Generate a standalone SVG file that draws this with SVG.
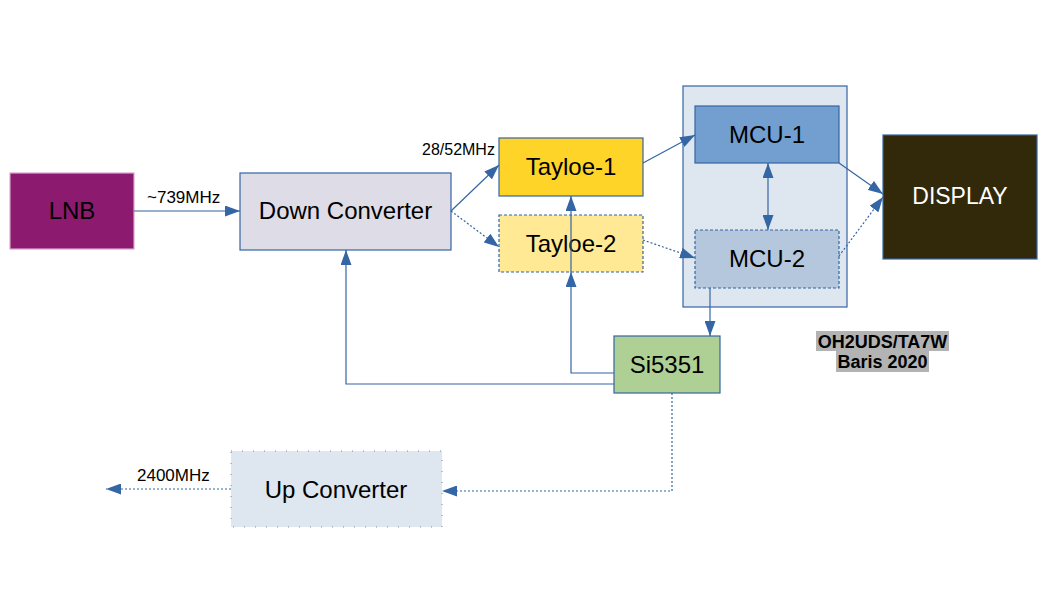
<svg xmlns="http://www.w3.org/2000/svg" width="1058" height="595" viewBox="0 0 1058 595">
<defs>
<marker id="ah" markerUnits="userSpaceOnUse" markerWidth="15" markerHeight="11" refX="15" refY="5.5" orient="auto">
<path d="M0,0 L15,5.5 L0,11 z" fill="#3465a4"/>
</marker>
<marker id="ahs" markerUnits="userSpaceOnUse" markerWidth="15" markerHeight="11" refX="0" refY="5.5" orient="auto">
<path d="M15,0 L0,5.5 L15,11 z" fill="#3465a4"/>
</marker>
</defs>
<style>
text{font-family:"Liberation Sans",Arial,sans-serif;fill:#000}
.lbl{font-size:24px;text-anchor:middle}
.sm{font-size:17px}
.ln{fill:none;stroke:#3465a4;stroke-width:1.2}
.dot{fill:none;stroke:#3465a4;stroke-width:1.2;stroke-dasharray:2,2}
.bx{stroke:#3465a4;stroke-width:1.2}
.dbx{stroke:#3465a4;stroke-width:1.2;stroke-dasharray:3,2}
</style>
<rect width="1058" height="595" fill="#fff"/>

<g id="mcu-group">
<rect x="683" y="86" width="164" height="221" fill="#dee6ef" class="bx"/>
</g>

<g id="lnb">
<rect x="10" y="173" width="124" height="76" fill="#8c1b6f" stroke="#d9a6cb" stroke-width="1.2"/>
<text x="72" y="219" class="lbl">LNB</text>
</g>

<g id="down-converter">
<rect x="240" y="173" width="211" height="77" fill="#dedce6" class="bx"/>
<text x="345.5" y="219" class="lbl">Down Converter</text>
</g>

<g id="tayloe-1">
<rect x="499" y="138" width="144" height="58" fill="#ffd428" class="bx"/>
<text x="571" y="175" class="lbl">Tayloe-1</text>
</g>

<g id="tayloe-2">
<rect x="499" y="215" width="144" height="57" fill="#ffe994" class="dbx"/>
<text x="571" y="252" class="lbl">Tayloe-2</text>
</g>

<g id="mcu-1">
<rect x="695" y="106" width="144" height="57" fill="#729fcf" class="bx"/>
<text x="767" y="143" class="lbl">MCU-1</text>
</g>

<g id="mcu-2">
<rect x="695" y="230" width="144" height="58" fill="#b4c7dc" class="dbx"/>
<text x="767" y="267" class="lbl">MCU-2</text>
</g>

<g id="display">
<rect x="883" y="135" width="154" height="124" fill="#31290a" class="bx"/>
<text x="960" y="204" class="lbl" style="fill:#fff;font-size:23px">DISPLAY</text>
</g>

<g id="si5351">
<rect x="614" y="336" width="106" height="57" fill="#afd095" class="bx"/>
<text x="667" y="373" class="lbl">Si5351</text>
</g>

<g id="up-converter">
<rect x="231" y="451" width="211" height="76" fill="#dee6ef" stroke="#3465a4" stroke-width="1" stroke-dasharray="1,10" stroke-opacity="0.7"/>
<text x="336" y="498" class="lbl">Up Converter</text>
</g>

<g id="credit">
<rect x="816" y="331" width="133" height="20" fill="#b3b3b3"/>
<rect x="836" y="351" width="93" height="21" fill="#b3b3b3"/>
<text x="882.5" y="348" style="font-size:18px;font-weight:bold;text-anchor:middle">OH2UDS/TA7W</text>
<text x="882.5" y="368" style="font-size:18px;font-weight:bold;text-anchor:middle">Baris 2020</text>
</g>

<g id="connectors">
<line x1="134" y1="211" x2="240" y2="211" class="ln" marker-end="url(#ah)"/>
<line x1="451" y1="211" x2="499" y2="165" class="ln" marker-end="url(#ah)"/>
<line x1="451" y1="211" x2="499" y2="247" class="dot" marker-end="url(#ah)"/>
<line x1="643" y1="163" x2="695" y2="135" class="ln" marker-end="url(#ah)"/>
<line x1="643" y1="240" x2="695" y2="258" class="dot" marker-end="url(#ah)"/>
<line x1="768" y1="163" x2="768" y2="230" class="ln" marker-start="url(#ahs)" marker-end="url(#ah)"/>
<line x1="839" y1="163" x2="883" y2="194" class="ln" marker-end="url(#ah)"/>
<line x1="839" y1="256" x2="883" y2="197" class="dot" marker-end="url(#ah)"/>
<line x1="710" y1="288" x2="710" y2="336" class="ln" marker-end="url(#ah)"/>
<polyline points="614,373 571,373 571,272" class="ln" marker-end="url(#ah)"/>
<line x1="571" y1="272" x2="571" y2="196" class="ln" marker-end="url(#ah)"/>
<polyline points="614,384 346,384 346,250" class="ln" marker-end="url(#ah)"/>
<polyline points="672,393 672,491 442,491" class="dot" marker-end="url(#ah)"/>
<line x1="231" y1="489" x2="106" y2="489" class="dot" marker-end="url(#ah)"/>
<text x="147" y="203" class="sm">~739MHz</text>
<text x="422" y="155" style="font-size:16px">28/52MHz</text>
<text x="137" y="481" class="sm">2400MHz</text>
</g>
</svg>
